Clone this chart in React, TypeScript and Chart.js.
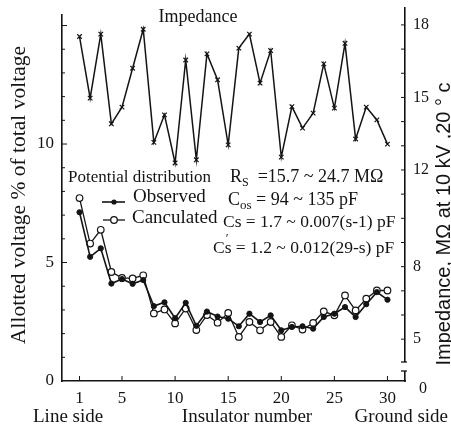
import React, { useEffect, useRef } from 'react';
import { Chart, registerables } from 'chart.js';

Chart.register(...registerables);

const SERIF = '"Liberation Serif", "DejaVu Serif", serif';
const SANS = '"Liberation Sans", Arial, sans-serif';

// ---- data ----
const insulatorNumbers = [1, 2, 3, 4, 5, 6, 7, 8, 9, 10, 11, 12, 13, 14, 15, 16, 17, 18, 19, 20, 21, 22, 23, 24, 25, 26, 27, 28, 29, 30];
const impedance = [17.52, 14.97, 17.62, 13.91, 14.6, 16.21, 17.82, 13.14, 14.28, 12.29, 16.55, 12.42, 16.8, 15.73, 13.04, 17.04, 17.62, 15.59, 16.94, 12.53, 14.62, 13.73, 14.35, 16.39, 14.56, 17.24, 13.28, 14.6, 14.07, 13.07];
const observed = [7.12, 5.24, 5.6, 4.11, 4.3, 4.1, 4.26, 3.16, 3.32, 2.65, 3.3, 2.33, 2.93, 2.72, 2.63, 2.31, 2.84, 2.49, 2.77, 2.14, 2.28, 2.31, 2.21, 2.7, 2.84, 3.12, 2.7, 3.24, 3.75, 3.43];
const calculated = [7.72, 5.8, 6.38, 4.6, 4.35, 4.33, 4.46, 2.85, 3.02, 2.43, 3.06, 2.15, 2.78, 2.46, 2.87, 1.86, 2.49, 2.14, 2.49, 1.86, 2.35, 2.17, 2.45, 2.94, 2.77, 3.61, 2.98, 3.47, 3.82, 3.82];

const xTickValues = [1, 5, 10, 15, 20, 25, 30];
const leftTickValues = [0, 5, 10];
const rightTickValues = [5, 8, 12, 15, 18];

const INK = '#141414';

function drawParts(ctx: CanvasRenderingContext2D, parts: { t: string; size: number; dy?: number; dx?: number }[], x: number, y: number) {
  let cx = x;
  for (const p of parts) {
    ctx.font = `${p.size}px ${SERIF}`;
    cx += p.dx || 0;
    ctx.fillText(p.t, cx, y + (p.dy || 0));
    cx += ctx.measureText(p.t).width;
  }
  return cx;
}

const decorPlugin = {
  id: 'decor',
  beforeDraw(chart: any) {
    const { ctx, width, height } = chart;
    ctx.save();
    ctx.fillStyle = '#ffffff';
    ctx.fillRect(0, 0, width, height);
    ctx.restore();
  },
  afterDraw(chart: any) {
    const { ctx, chartArea: a, scales } = chart;
    const sx = scales.x, sy = scales.y, sy2 = scales.y2;
    ctx.save();
    ctx.strokeStyle = INK;
    ctx.fillStyle = INK;
    ctx.lineWidth = 1;
    const line = (x1: number, y1: number, x2: number, y2: number) => {
      ctx.beginPath();
      ctx.moveTo(x1, y1);
      ctx.lineTo(x2, y2);
      ctx.stroke();
    };
    // left axis starts a little lower than the right one
    ctx.fillStyle = '#ffffff';
    ctx.fillRect(a.left - 2, a.top - 1, 4, 7);
    ctx.fillStyle = INK;
    // inward tick marks
    for (const v of xTickValues) {
      const px = sx.getPixelForValue(v);
      line(px, a.bottom, px, a.bottom - 5);
    }
    for (let v = 1; v <= 15; v++) {
      const py = sy.getPixelForValue(v);
      line(a.left, py, a.left + (v % 5 === 0 ? 5 : 3), py);
    }
    for (let v = 5; v <= 18; v++) {
      const py = sy2.getPixelForValue(v);
      line(a.right, py, a.right - 4, py);
    }
    // axis break on the right axis
    ctx.fillStyle = '#ffffff';
    ctx.fillRect(a.right - 2, 362, 4, 9);
    ctx.fillStyle = INK;
    ctx.lineWidth = 1.3;
    line(a.right - 4, 362, a.right + 2, 362);
    line(a.right - 4, 371, a.right + 2, 371);

    // right axis "0" label (broken axis)
    ctx.font = `16px ${SERIF}`;
    ctx.textAlign = 'center';
    ctx.textBaseline = 'middle';
    ctx.fillText('0', 423, 389);

    // axis titles
    ctx.save();
    ctx.translate(19, 195);
    ctx.rotate(-Math.PI / 2);
    ctx.font = `21.5px ${SERIF}`;
    ctx.fillText('Allotted voltage % of total voltage', 0, 0);
    ctx.restore();

    ctx.save();
    ctx.translate(444, 224);
    ctx.rotate(-Math.PI / 2);
    ctx.font = `20px ${SANS}`;
    ctx.fillText('Impedance, MΩ at 10 kV ,20 ° c', 0, 0);
    ctx.restore();

    ctx.font = `19px ${SERIF}`;
    ctx.textAlign = 'left';
    ctx.fillText('Line side', 33, 417);
    ctx.textAlign = 'center';
    ctx.fillText('Insulator number', 247, 417);
    ctx.textAlign = 'right';
    ctx.fillText('Ground side', 448, 417);

    // in-plot labels
    ctx.textAlign = 'center';
    ctx.font = `18px ${SERIF}`;
    ctx.fillText('Impedance', 198, 17);

    ctx.textAlign = 'left';
    ctx.font = `17px ${SERIF}`;
    ctx.fillText('Potential distribution', 68, 178);

    // legend
    const dsObs = chart.data.datasets[1];
    const dsCal = chart.data.datasets[2];
    ctx.lineWidth = 1.6;
    ctx.strokeStyle = dsObs.borderColor;
    line(102, 202, 125, 202);
    ctx.beginPath();
    ctx.arc(114, 202, 2.6, 0, Math.PI * 2);
    ctx.fillStyle = dsObs.pointBackgroundColor;
    ctx.fill();
    ctx.strokeStyle = dsCal.borderColor;
    ctx.lineWidth = 1.3;
    line(103, 220, 125, 220);
    ctx.beginPath();
    ctx.arc(114, 220, 3.3, 0, Math.PI * 2);
    ctx.fillStyle = dsCal.pointBackgroundColor;
    ctx.fill();
    ctx.stroke();
    ctx.fillStyle = INK;
    ctx.font = `19px ${SERIF}`;
    ctx.fillText(dsObs.label, 133, 197);
    ctx.fillText(dsCal.label, 132, 218);

    // parameter annotations
    drawParts(ctx, [
      { t: 'R', size: 18 },
      { t: 'S', size: 12, dy: 6 },
      { t: '  =15.7 ~ 24.7 MΩ', size: 18 },
    ], 230, 177);
    drawParts(ctx, [
      { t: 'C', size: 18 },
      { t: 'os', size: 13, dy: 6 },
      { t: ' = 94 ~ 135 pF', size: 18 },
    ], 228, 200);
    drawParts(ctx, [{ t: 'Cs = 1.7 ~ 0.007(s-1) pF', size: 17.5 }], 223, 222);
    ctx.font = `17.5px ${SERIF}`;
    const cw = ctx.measureText('C').width;
    drawParts(ctx, [{ t: 'Cs = 1.2 ~ 0.012(29-s) pF', size: 17.5 }], 213, 248);
    ctx.font = `13px ${SERIF}`;
    ctx.fillText('′', 213 + cw + 1, 239);

    ctx.restore();
  },
};

export default function App() {
  const ref = useRef<HTMLCanvasElement | null>(null);

  useEffect(() => {
    document.body.style.margin = '0';
    const canvas = ref.current;
    if (!canvas) return;
    const pts = (vals: number[]) => insulatorNumbers.map((n, i) => ({ x: n, y: vals[i] }));
    const chart = new Chart(canvas, {
      type: 'line',
      data: {
        datasets: [
          {
            label: 'Impedance',
            data: pts(impedance),
            yAxisID: 'y2',
            borderColor: INK,
            borderWidth: 1.5,
            pointStyle: 'crossRot',
            pointRadius: 3.2,
            pointBorderColor: INK,
            pointBorderWidth: 1.2,
            tension: 0,
            order: 3,
          },
          {
            label: 'Observed',
            data: pts(observed),
            yAxisID: 'y',
            borderColor: INK,
            borderWidth: 1.6,
            pointStyle: 'circle',
            pointRadius: 2.6,
            pointBackgroundColor: INK,
            pointBorderColor: INK,
            pointBorderWidth: 1,
            tension: 0,
            order: 1,
          },
          {
            label: 'Canculated',
            data: pts(calculated),
            yAxisID: 'y',
            borderColor: INK,
            borderWidth: 1.3,
            pointStyle: 'circle',
            pointRadius: 3.3,
            pointBackgroundColor: '#ffffff',
            pointBorderColor: INK,
            pointBorderWidth: 1.2,
            tension: 0,
            order: 2,
          },
        ],
      },
      options: {
        responsive: false,
        animation: false,
        events: [],
        layout: { padding: { top: 8, left: 0, right: 0, bottom: 0 } },
        plugins: {
          legend: { display: false },
          tooltip: { enabled: false },
          title: { display: false },
        },
        scales: {
          x: {
            type: 'linear',
            min: -0.65,
            max: 31.65,
            afterBuildTicks: (s: any) => {
              s.ticks = xTickValues.map((v) => ({ value: v }));
            },
            afterFit: (s: any) => {
              s.height = 49;
              s.paddingLeft = 0;
              s.paddingRight = 0;
            },
            grid: { display: false, drawTicks: false },
            border: { display: true, color: INK, width: 1.6 },
            ticks: {
              color: INK,
              font: { family: SERIF, size: 17 },
              padding: 7,
              autoSkip: false,
              maxRotation: 0,
            },
          },
          y: {
            type: 'linear',
            position: 'left',
            min: 0,
            max: 15.74,
            afterBuildTicks: (s: any) => {
              s.ticks = leftTickValues.map((v) => ({ value: v }));
            },
            afterFit: (s: any) => {
              s.width = 62;
              s.paddingTop = 0;
              s.paddingBottom = 0;
            },
            grid: { display: false, drawTicks: false },
            border: { display: true, color: INK, width: 1.6 },
            ticks: {
              color: INK,
              font: { family: SERIF, size: 17 },
              padding: 8,
            },
          },
          y2: {
            type: 'linear',
            position: 'right',
            min: 3.27,
            max: 18.7,
            afterBuildTicks: (s: any) => {
              s.ticks = rightTickValues.map((v) => ({ value: v }));
            },
            afterFit: (s: any) => {
              s.width = 46;
              s.paddingTop = 0;
              s.paddingBottom = 0;
            },
            grid: { display: false, drawTicks: false },
            border: { display: true, color: INK, width: 1.6 },
            ticks: {
              color: INK,
              font: { family: SERIF, size: 16 },
              padding: 8,
            },
          },
        },
      },
      plugins: [decorPlugin],
    });
    return () => chart.destroy();
  }, []);

  return <canvas ref={ref} width={451} height={430} style={{ display: 'block' }} />;
}
